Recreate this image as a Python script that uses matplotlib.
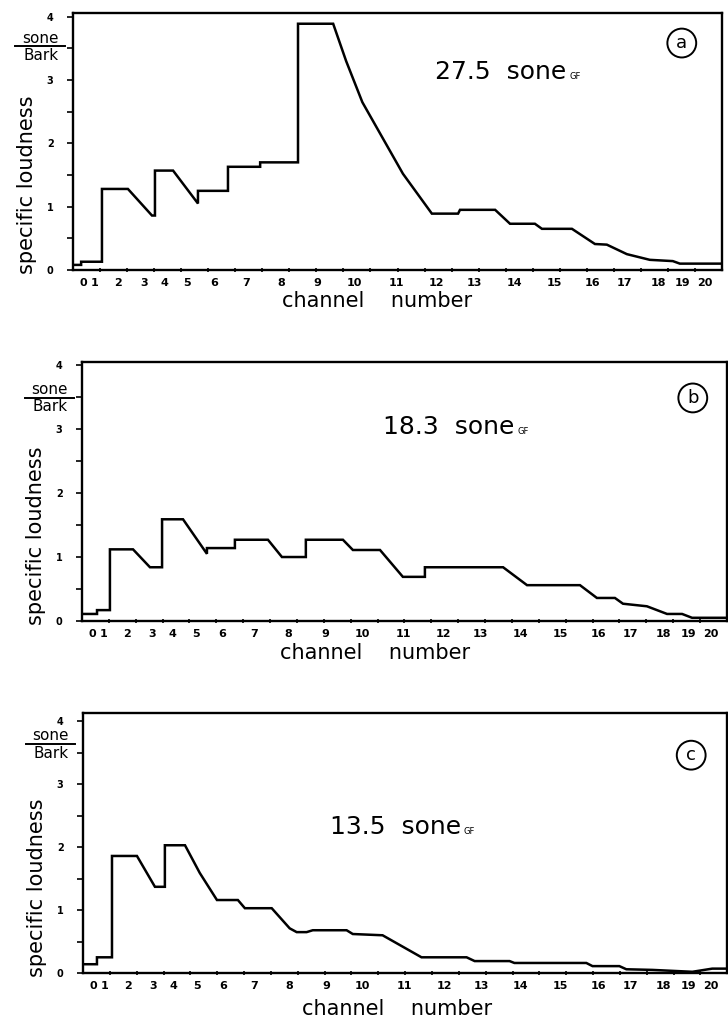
import matplotlib
matplotlib.use("Agg")
import matplotlib.pyplot as plt
import numpy as np

# channel label positions on the critical-band-rate axis (0..24 Bark)
channel_pos = [0.38, 0.79, 1.66, 2.62, 3.38, 4.23, 5.21, 6.39, 7.69, 9.05, 10.42,
               11.96, 13.45, 14.83, 16.31, 17.80, 19.21, 20.40, 21.64, 22.55, 23.38]
channel_labels = [str(i) for i in range(21)]

# panel (a)
z_a = [0, 0.3, 0.3, 1.07, 1.07, 2.03, 2.92, 3.03, 3.03, 3.70, 4.62, 4.62, 5.73, 5.73,
       6.92, 6.92, 8.32, 8.32, 9.62, 10.1, 10.7, 11.35, 12.2, 13.27, 14.24, 14.31,
       15.61, 16.16, 17.08, 17.34, 18.45, 19.3, 19.74, 20.48, 21.33, 22.18, 22.44, 24]
N_a = [0.08, 0.08, 0.13, 0.13, 1.28, 1.28, 0.86, 0.86, 1.57, 1.57, 1.05, 1.25, 1.25, 1.63,
       1.63, 1.70, 1.70, 3.89, 3.89, 3.3, 2.65, 2.16, 1.52, 0.89, 0.89, 0.95,
       0.95, 0.73, 0.73, 0.65, 0.65, 0.41, 0.40, 0.25, 0.16, 0.14, 0.10, 0.10]

# panel (b)
z_b = [0, 0.56, 0.56, 1.04, 1.04, 1.90, 2.53, 2.98, 2.98, 3.76, 4.65, 4.65, 5.69, 5.69,
       6.92, 7.44, 8.33, 8.33, 9.71, 10.08, 11.09, 11.94, 12.76, 12.76, 15.67, 16.56,
       18.53, 19.16, 19.83, 20.13, 21.02, 21.77, 22.33, 22.70, 24]
N_b = [0.11, 0.11, 0.17, 0.17, 1.12, 1.12, 0.84, 0.84, 1.59, 1.59, 1.05, 1.14, 1.14, 1.27,
       1.27, 1.0, 1.0, 1.27, 1.27, 1.11, 1.11, 0.69, 0.69, 0.84, 0.84, 0.56,
       0.56, 0.36, 0.36, 0.27, 0.23, 0.11, 0.11, 0.05, 0.05]

# panel (c)
z_c = [0, 0.52, 0.52, 1.08, 1.08, 2.01, 2.68, 3.05, 3.05, 3.80, 4.35, 4.99, 5.77, 6.03,
       7.03, 7.70, 7.96, 8.33, 8.56, 9.82, 10.05, 11.16, 12.61, 14.29, 14.59, 15.89,
       16.07, 18.75, 18.98, 19.98, 20.24, 21.21, 22.70, 23.44, 24]
N_c = [0.14, 0.14, 0.25, 0.25, 1.86, 1.86, 1.37, 1.37, 2.03, 2.03, 1.59, 1.16, 1.16, 1.03,
       1.03, 0.71, 0.65, 0.65, 0.68, 0.68, 0.62, 0.60, 0.25, 0.25, 0.19, 0.19,
       0.16, 0.16, 0.11, 0.11, 0.06, 0.05, 0.02, 0.07, 0.07]

totals = ["27.5", "18.3", "13.5"]
letters = ["a", "b", "c"]

# layout per panel (figure fractions / axes fractions)
rects = [[0.1003, 0.7379, 0.8915, 0.2495],
         [0.1126, 0.3971, 0.8860, 0.2515],
         [0.1140, 0.0553, 0.8850, 0.2524]]
ytops = [4.06, 4.05, 4.13]
total_xy = [(0.558, 0.77), (0.467, 0.749), (0.383, 0.562)]
circle_xy = [(0.938, 0.883), (0.947, 0.861), (0.944, 0.838)]
unit_y = [0.870, 0.862, 0.880]
xlabel_xy = [(0.468, -0.122), (0.454, -0.124), (0.487, -0.138)]

fig = plt.figure(figsize=(7.28, 10.3), dpi=100)
curves = [(z_a, N_a), (z_b, N_b), (z_c, N_c)]

for i in range(3):
    ax = fig.add_axes(rects[i])
    z, N = curves[i]
    ax.plot(z, N, color="black", lw=1.8, solid_joinstyle="miter")
    ax.set_xlim(0, 24)
    ax.set_ylim(0, ytops[i])
    for s in ax.spines.values():
        s.set_linewidth(1.7)

    ax.set_xticks(channel_pos)
    ax.set_xticklabels(channel_labels, fontsize=8, fontweight="bold")
    ax.set_xticks(np.arange(1, 24), minor=True)
    ax.tick_params(axis="x", which="major", length=0, pad=6)
    ax.tick_params(axis="x", which="minor", length=3, width=1.2, direction="inout")

    ax.set_yticks([0, 1, 2, 3, 4])
    ax.set_yticklabels(["0", "1", "2", "3", "4"], fontsize=7, fontweight="bold")
    ax.set_yticks(np.arange(0.5, 4.0, 1.0), minor=True)
    ax.tick_params(axis="y", which="both", length=4, width=1.2, direction="out", pad=10)

    tx, ty = total_xy[i]
    t = ax.text(tx, ty, totals[i] + "  sone", transform=ax.transAxes,
                fontsize=18, ha="left", va="center")
    ax.annotate("GF", xy=(1, 0), xycoords=t, xytext=(2, 2), textcoords="offset points",
                fontsize=6, ha="left", va="bottom")

    cx, cy = circle_xy[i]
    ax.text(cx, cy, letters[i], transform=ax.transAxes, fontsize=13, ha="center",
            va="center", bbox=dict(boxstyle="circle,pad=0.3", fc="white", ec="black", lw=1.4))

    # unit label sone / Bark
    uy = unit_y[i]
    ax.plot([-0.089, -0.012], [uy, uy], color="black", lw=1.4,
            transform=ax.transAxes, clip_on=False)
    ax.text(-0.050, uy + 0.003, "sone", transform=ax.transAxes, fontsize=11,
            ha="center", va="bottom")
    ax.text(-0.050, uy - 0.005, "Bark", transform=ax.transAxes, fontsize=11,
            ha="center", va="top")

    ax.text(-0.071, 0.33, "specific loudness", transform=ax.transAxes, rotation=90,
            fontsize=15, ha="center", va="center")
    lx, ly = xlabel_xy[i]
    ax.text(lx, ly, "channel    number", transform=ax.transAxes,
            fontsize=15, ha="center", va="center")

fig.savefig("out.png", dpi=100)
